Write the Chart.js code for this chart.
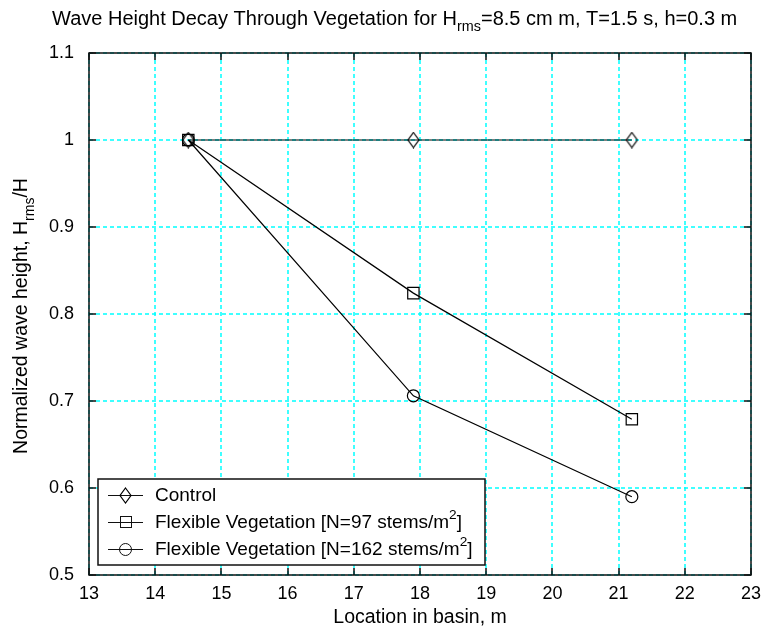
<!DOCTYPE html>
<html lang="en">
<head>
    <meta charset="UTF-8">
    <title>Wave Height Decay</title>
    <script src="https://cdn.jsdelivr.net/npm/chart.js"></script>
    <style>
        html, body { margin: 0; padding: 0; background: #fff; }
        #wrap { width: 764px; height: 631px; }
    </style>
</head>
<body>
    <div id="wrap"><canvas id="decayChart" width="764" height="631"></canvas></div>
    <script>
        // measurement locations along the basin (m)
        const locations = [14.5, 17.9, 21.2];
        const control = [1, 1, 1];
        const flex97 = [1, 0.824, 0.679];
        const flex162 = [1, 0.706, 0.590];
        const seriesLabels = ['Control', 'Flexible Vegetation [N=97 stems/m^2]', 'Flexible Vegetation [N=162 stems/m^2]'];
        const xTicks = [13, 14, 15, 16, 17, 18, 19, 20, 21, 22, 23];
        const yTicks = [0.5, 0.6, 0.7, 0.8, 0.9, 1, 1.1];

        const FONT = 'Liberation Sans, Arial, sans-serif';

        // thin MATLAB-style diamond marker
        function diamondMarker() {
            const c = document.createElement('canvas');
            c.width = 13; c.height = 17;
            const g = c.getContext('2d');
            g.strokeStyle = '#000';
            g.lineWidth = 1.2;
            g.beginPath();
            g.moveTo(6.5, 1); g.lineTo(12, 8.5); g.lineTo(6.5, 16); g.lineTo(1, 8.5); g.closePath();
            g.stroke();
            return c;
        }
        const diamond = diamondMarker();

        const toPoints = ys => locations.map((x, i) => ({ x: x, y: ys[i] }));

        // draws "text" with ^sup and _sub segments, returns width
        function richText(ctx, str, x, y, size, measureOnly) {
            const parts = str.split(/([\^_][a-z0-9]+)/);
            let cx = x;
            parts.forEach(p => {
                if (!p) return;
                let t = p, dy = 0, fs = size;
                if (p[0] === '^') { t = p.slice(1); dy = -size * 0.4; fs = size * 0.72; }
                else if (p[0] === '_') { t = p.slice(1); dy = size * 0.4; fs = size * 0.72; }
                ctx.font = fs + 'px ' + FONT;
                if (!measureOnly) ctx.fillText(t, cx, y + dy);
                cx += ctx.measureText(t).width;
            });
            return cx - x;
        }

        // dashed cyan grid under the data
        const grid = {
            id: 'grid',
            beforeDatasetsDraw(chart) {
                const ctx = chart.ctx;
                const a = chart.chartArea;
                const xs = chart.scales.x, ys = chart.scales.y;
                ctx.save();
                ctx.strokeStyle = '#00ffff';
                ctx.lineWidth = 1.5;
                ctx.setLineDash([4, 3]);
                ctx.beginPath();
                xTicks.forEach(v => {
                    const px = Math.round(xs.getPixelForValue(v));
                    ctx.moveTo(px, a.top); ctx.lineTo(px, a.bottom);
                });
                yTicks.forEach(v => {
                    const py = Math.round(ys.getPixelForValue(v));
                    ctx.moveTo(a.left, py); ctx.lineTo(a.right, py);
                });
                ctx.stroke();
                ctx.restore();
            }
        };

        const decoration = {
            id: 'decoration',
            afterDraw(chart) {
                const ctx = chart.ctx;
                const a = chart.chartArea;
                const xs = chart.scales.x, ys = chart.scales.y;
                ctx.save();
                ctx.strokeStyle = '#111';
                ctx.lineWidth = 1.5;
                ctx.strokeRect(a.left, a.top, a.right - a.left, a.bottom - a.top);

                // inward tick marks on all four sides
                ctx.beginPath();
                xTicks.forEach(v => {
                    const px = Math.round(xs.getPixelForValue(v));
                    ctx.moveTo(px, a.bottom); ctx.lineTo(px, a.bottom - 7);
                    ctx.moveTo(px, a.top); ctx.lineTo(px, a.top + 7);
                });
                yTicks.forEach(v => {
                    const py = Math.round(ys.getPixelForValue(v));
                    ctx.moveTo(a.left, py); ctx.lineTo(a.left + 7, py);
                    ctx.moveTo(a.right, py); ctx.lineTo(a.right - 7, py);
                });
                ctx.stroke();

                ctx.fillStyle = '#000';
                ctx.textBaseline = 'middle';

                // title
                const title = 'Wave Height Decay Through Vegetation for H_rms=8.5 cm m, T=1.5 s, h=0.3 m';
                richText(ctx, title, 52, 19, 20, false);

                // x axis title
                ctx.font = '19.5px ' + FONT;
                ctx.textAlign = 'center';
                ctx.fillText('Location in basin, m', (a.left + a.right) / 2, 618);
                ctx.textAlign = 'left';

                // y axis title
                const ytitle = 'Normalized wave height, H_rms/H';
                ctx.save();
                ctx.translate(22, 316);
                ctx.rotate(-Math.PI / 2);
                const yw = richText(ctx, ytitle, 0, 0, 19.5, true);
                richText(ctx, ytitle, -yw / 2, 0, 19.5, false);
                ctx.restore();

                // legend box
                const lx = 98, ly = 479, lw = 387, lh = 86;
                ctx.lineWidth = 1.5;
                ctx.fillStyle = '#fff';
                ctx.fillRect(lx, ly, lw, lh);
                ctx.strokeRect(lx, ly, lw, lh);
                ctx.lineWidth = 1;
                chart.data.datasets.forEach((ds, i) => {
                    const ry = ly + 16 + i * 27;
                    ctx.beginPath();
                    ctx.moveTo(108, ry + 0.5); ctx.lineTo(143, ry + 0.5);
                    ctx.stroke();
                    if (ds.pointStyle === 'rect') {
                        ctx.strokeRect(120.5, ry - 5.5, 11, 11);
                    } else if (ds.pointStyle === 'circle') {
                        ctx.beginPath(); ctx.arc(125.5, ry + 0.5, 6, 0, Math.PI * 2); ctx.stroke();
                    } else {
                        ctx.drawImage(diamond, 119, ry - 8);
                    }
                    ctx.fillStyle = '#000';
                    richText(ctx, seriesLabels[i], 155, ry + 1, 19, false);
                });
                ctx.restore();
            }
        };

        const base = {
            borderColor: '#000',
            borderWidth: 1.2,
            backgroundColor: 'transparent',
            pointBorderColor: '#000',
            pointBackgroundColor: 'transparent',
            pointBorderWidth: 1.2,
            showLine: true,
            tension: 0
        };

        new Chart(document.getElementById('decayChart'), {
            type: 'scatter',
            data: {
                datasets: [
                    Object.assign({}, base, { label: seriesLabels[0], data: toPoints(control), pointStyle: diamond, pointRadius: 8 }),
                    Object.assign({}, base, { label: seriesLabels[1], data: toPoints(flex97), pointStyle: 'rect', pointRadius: 8 }),
                    Object.assign({}, base, { label: seriesLabels[2], data: toPoints(flex162), pointStyle: 'circle', pointRadius: 6 })
                ]
            },
            options: {
                responsive: false,
                animation: false,
                layout: { padding: { top: 53, right: 13, left: 0, bottom: 0 } },
                plugins: { legend: { display: false }, tooltip: { enabled: false } },
                scales: {
                    x: {
                        type: 'linear', min: 13, max: 23,
                        afterFit: s => { s.height = 56; },
                        afterBuildTicks: s => { s.ticks = xTicks.map(v => ({ value: v })); },
                        grid: { display: false },
                        border: { display: false },
                        ticks: { color: '#000', font: { family: FONT, size: 18 }, padding: 0, maxRotation: 0 }
                    },
                    y: {
                        type: 'linear', min: 0.5, max: 1.1,
                        afterFit: s => { s.width = 89; },
                        afterBuildTicks: s => { s.ticks = yTicks.map(v => ({ value: v })); },
                        grid: { display: false },
                        border: { display: false },
                        ticks: { color: '#000', font: { family: FONT, size: 18 }, padding: 7, callback: v => String(v) }
                    }
                }
            },
            plugins: [grid, decoration]
        });
    </script>
</body>
</html>
